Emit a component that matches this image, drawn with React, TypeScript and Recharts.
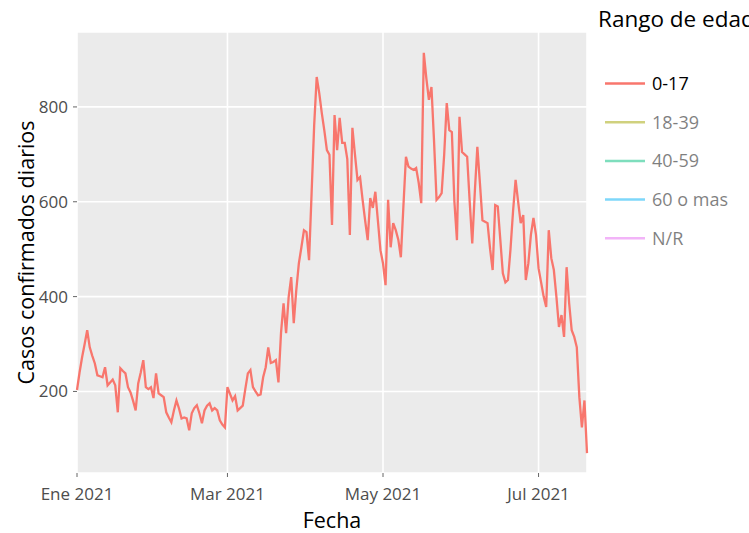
import React from "react";
import { LineChart, Line, XAxis, YAxis, CartesianGrid, Label } from "recharts";

// Daily confirmed cases, age group 0-17, by month (2021)
const startDate = "2021-01-01";
const jan = [203,240,272,300,329,293,275,259,234,232,230,251,213,219,225,213,156,249,243,238,209,198,180,160,217,240,266,209,205,209,186];
const feb = [238,196,192,188,156,145,135,160,181,164,143,145,143,118,154,165,171,154,133,160,170,175,160,165,160,139,130,124];
const mar = [209,195,181,190,160,165,170,205,238,245,209,200,192,194,230,251,293,260,262,266,219,323,386,323,399,441,344,414,470,504,540];
const apr = [536,477,618,760,863,829,787,750,709,699,551,783,709,777,724,724,690,530,756,700,646,652,604,560,519,608,587,621,560,498];
const may = [470,424,604,504,555,540,520,483,590,695,674,670,667,671,640,597,914,860,815,842,730,604,610,618,700,808,751,747,600,519,779];
const jun = [705,700,695,600,512,620,716,640,561,558,555,500,456,593,590,520,449,430,435,500,580,646,600,555,572,435,470,530,566,530];
const jul = [460,430,400,378,540,481,456,400,336,361,315,462,386,329,315,293,188,124,181,70];

const seriesNames = ["0-17", "18-39", "40-59", "60 o mas", "N/R"];
const seriesColors = ["#F8766D", "#A3A500", "#00BF7D", "#00B0F6", "#E76BF3"];
const seriesVisible = [true, false, false, false, false];

const xTickDates = ["2021-01-01", "2021-03-01", "2021-05-01", "2021-07-01"];
const xTickLabels = ["Ene 2021", "Mar 2021", "May 2021", "Jul 2021"];
const yTicks = [200, 400, 600, 800];

const DAY = 86400000;
const allValues = [...jan, ...feb, ...mar, ...apr, ...may, ...jun, ...jul];
const t0 = Date.parse(startDate + "T00:00:00Z");
const data = allValues.map((v, i) => ({ t: t0 + i * DAY, v }));
const xTicks = xTickDates.map((d) => Date.parse(d + "T00:00:00Z"));

const FONT = "'Open Sans', 'DejaVu Sans', sans-serif";

function fmtX(t: number) {
  const i = xTicks.indexOf(t);
  return i >= 0 ? xTickLabels[i] : "";
}

export default function App() {
  return (
    <div style={{ position: "absolute", left: 0, top: 0, width: 749, height: 533, background: "#fff", overflow: "hidden" }}>
      <LineChart
        width={749}
        height={533}
        data={data}
        margin={{ top: 32, right: 162, bottom: 0, left: 0 }}
      >
        <CartesianGrid fill="#EBEBEB" stroke="#FFFFFF" strokeWidth={1.6} />
        <XAxis
          dataKey="t"
          type="number"
          domain={["dataMin", "dataMax"]}
          ticks={xTicks}
          tickFormatter={fmtX}
          axisLine={false}
          tickLine={{ stroke: "#666", strokeWidth: 1 }}
          tickSize={4}
          tickMargin={11}
          height={60}
          tick={{ fill: "#4D4D4D", fontSize: 17, fontFamily: FONT }}
          interval={0}
        >
          <Label value="Fecha" position="insideBottom" offset={5} style={{ fill: "#000", fontSize: 21.5, fontFamily: FONT }} />
        </XAxis>
        <YAxis
          type="number"
          domain={[28, 958]}
          ticks={yTicks}
          axisLine={false}
          tickLine={{ stroke: "#666", strokeWidth: 1 }}
          tickSize={4}
          tickMargin={5}
          width={77}
          tick={{ fill: "#4D4D4D", fontSize: 17, fontFamily: FONT }}
          interval={0}
        >
          <Label
            value="Casos confirmados diarios"
            angle={-90}
            position="insideLeft"
            offset={26}
            style={{ fill: "#000", fontSize: 21.5, fontFamily: FONT, textAnchor: "middle" }}
          />
        </YAxis>
        <Line
          type="linear"
          dataKey="v"
          stroke={seriesColors[0]}
          strokeWidth={2.3}
          dot={false}
          isAnimationActive={false}
        />
      </LineChart>
      <svg
        width={159}
        height={260}
        style={{ position: "absolute", left: 590, top: 0, overflow: "hidden" }}
      >
        <text x={8} y={27} fontSize={22.5} fontFamily={FONT} fill="#000">
          Rango de edad
        </text>
        {seriesNames.map((name, i) => {
          const y = 83.5 + i * 38.7;
          const op = seriesVisible[i] ? 1 : 0.5;
          return (
            <g key={name} opacity={op}>
              <line x1={15} x2={55} y1={y} y2={y} stroke={seriesColors[i]} strokeWidth={2.5} />
              <text x={62} y={y} dy="0.36em" fontSize={18} fontFamily={FONT} fill="#000">
                {name}
              </text>
            </g>
          );
        })}
      </svg>
    </div>
  );
}
